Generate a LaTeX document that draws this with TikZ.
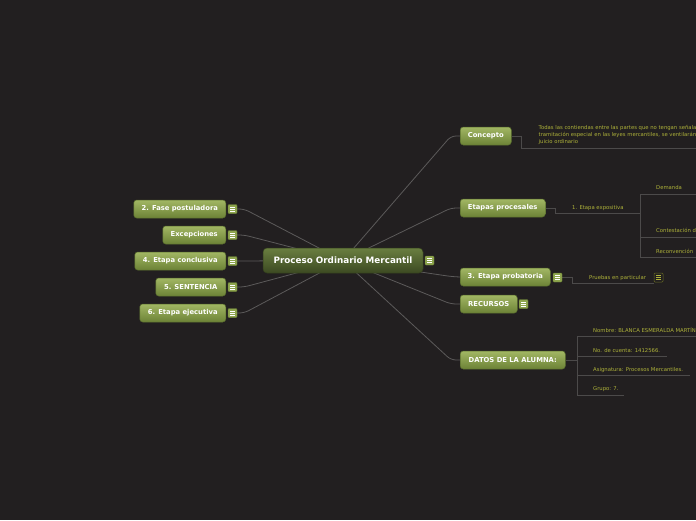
\documentclass[tikz,border=0pt]{standalone}
\usepackage{fontspec}
\setmainfont{DejaVu Sans}
\usetikzlibrary{calc}
\pgfdeclarelayer{bg}
\pgfdeclarelayer{edges}
\pgfsetlayers{bg,edges,main}
\definecolor{bgc}{HTML}{221F20}
\definecolor{linec}{HTML}{5C5A5A}
\definecolor{subline}{HTML}{4C4A4A}
\definecolor{nodetop}{HTML}{A2B764}
\definecolor{nodebot}{HTML}{6C8236}
\definecolor{nodeborder}{HTML}{5A6E2E}
\definecolor{maintop}{HTML}{6A7E40}
\definecolor{mainbot}{HTML}{3C4A22}
\definecolor{mainborder}{HTML}{34401D}
\definecolor{smalltxt}{HTML}{AEB23A}
\definecolor{iconfill}{HTML}{8EA54E}
\tikzset{
  x=1pt, y=-1pt,
  topic/.style={rounded corners=3pt, top color=nodetop, bottom color=nodebot,
    draw=nodeborder, line width=0.5pt, minimum height=18pt, inner sep=0pt,
    text=white, font=\bfseries\fontsize{6.8}{8}\selectfont},
  maintopic/.style={rounded corners=4pt, top color=maintop, bottom color=mainbot,
    draw=mainborder, line width=0.5pt, minimum height=25pt, minimum width=160pt,
    inner sep=0pt, text=white, font=\bfseries\fontsize{8.8}{10}\selectfont},
  iconbox/.style={minimum size=9pt, inner sep=0pt, rounded corners=1pt,
    fill=iconfill, draw=nodebot, line width=0.4pt,
    path picture={
      \foreach \dy in {-2,0,2}{
        \draw[white, line width=0.6pt]
          ($(path picture bounding box.center)+(-2.3,\dy)$) --
          ($(path picture bounding box.center)+(2.3,\dy)$);}
    }},
  darkicon/.style={minimum size=9pt, inner sep=0pt, rounded corners=1pt,
    fill=bgc, draw=smalltxt!60!black, line width=0.5pt,
    path picture={
      \foreach \dy in {-2,0,2}{
        \draw[smalltxt, line width=0.6pt]
          ($(path picture bounding box.center)+(-2.3,\dy)$) --
          ($(path picture bounding box.center)+(2.3,\dy)$);}
    }},
  small/.style={text=smalltxt, inner sep=0pt, font=\fontsize{5.3}{6.8}\selectfont},
  conn/.style={draw=linec, line width=0.8pt, rounded corners=5pt},
  subconn/.style={draw=subline, line width=0.9pt},
}
\begin{document}
\begin{tikzpicture}
\begin{pgfonlayer}{bg}
\fill[bgc] (0,0) rectangle (696,520);
\end{pgfonlayer}
\useasboundingbox (0,0) rectangle (696,520);

% main
\node[maintopic] (main) at (343,260.5) {Proceso Ordinario Mercantil};
\node[iconbox] (mi) at (429.5,260.5) {};

% right topics
\node[topic, minimum width=51pt, anchor=west] (concepto) at (460,136) {Concepto};
\node[topic, minimum width=85pt, anchor=west] (etapas) at (460,208) {Etapas procesales};
\node[topic, minimum width=90pt, anchor=west] (probatoria) at (460,277) {3. Etapa probatoria};
\node[iconbox] (pi) at (557.5,277.5) {};
\node[topic, minimum width=57pt, anchor=west] (recursos) at (460,304) {RECURSOS};
\node[iconbox] (ri) at (523.5,304) {};
\node[topic, minimum width=105pt, anchor=west] (datos) at (460,360) {DATOS DE LA ALUMNA:};

% left topics
\node[topic, minimum width=92pt, anchor=east] (fase) at (226,209) {2. Fase postuladora};
\node[iconbox] (fi) at (232.5,209) {};
\node[topic, minimum width=63pt, anchor=east] (excep) at (226,235) {Excepciones};
\node[iconbox] (ei) at (232.5,235) {};
\node[topic, minimum width=91pt, anchor=east] (concl) at (226,261) {4. Etapa conclusiva};
\node[iconbox] (ci) at (232.5,261) {};
\node[topic, minimum width=70pt, anchor=east] (sent) at (226,287) {5. SENTENCIA};
\node[iconbox] (si) at (232.5,287) {};
\node[topic, minimum width=86pt, anchor=east] (ejec) at (226,313) {6. Etapa ejecutiva};
\node[iconbox] (ji) at (232.5,313) {};

% subtopic texts
\node[small, anchor=north west, align=left] (ctext) at (538.5,125.5)
  {Todas las contiendas entre las partes que no tengan señalada\\
   tramitación especial en las leyes mercantiles, se ventilarán en\\
   juicio ordinario};
\node[small, anchor=west] (expo) at (572,208.5) {1. Etapa expositiva};
\node[small, anchor=west] (dem) at (656,188) {Demanda};
\node[small, anchor=west] (cont) at (656,230.5) {Contestación de la demanda};
\node[small, anchor=west] (recon) at (656,251) {Reconvención};
\node[small, anchor=west] (prue) at (589,278) {Pruebas en particular};
\node[darkicon] (pri) at (658.5,277.5) {};
\node[small, anchor=west] (nom) at (593,330.5) {Nombre: BLANCA ESMERALDA MARTÍNEZ};
\node[small, anchor=west] (cta) at (593,350.5) {No. de cuenta: 1412566.};
\node[small, anchor=west] (asig) at (593,370) {Asignatura: Procesos Mercantiles.};
\node[small, anchor=west] (grp) at (593,389.5) {Grupo: 7.};

\coordinate (rEdge) at (696,0);

\begin{pgfonlayer}{edges}
% main connectors
\draw[conn] (main.center) -- ($(concepto.west)+(-9,0)$) -- (concepto.west);
\draw[conn] (main.center) -- ($(etapas.west)+(-9,0)$) -- (etapas.west);
\draw[conn] (main.center) -- ($(probatoria.west)+(-9,-0.5)$) -- (probatoria.west);
\draw[conn] (main.center) -- ($(recursos.west)+(-9,0)$) -- (recursos.west);
\draw[conn] (main.center) -- ($(datos.west)+(-9,0)$) -- (datos.west);
\draw[conn] (fi.east) -- ++(7,0) -- (main.center);
\draw[conn] (ei.east) -- ++(7,0) -- (main.center);
\draw[conn] (ci.east) -- (main.center);
\draw[conn] (si.east) -- ++(7,0) -- (main.center);
\draw[conn] (ji.east) -- ++(7,0) -- (main.center);
% concepto subtree
\draw[subconn] (concepto.east) -- (521,136) -- (521,148) -- (rEdge |- 0,148);
% etapas subtree
\draw[subconn] (etapas.east) -- (555,208) -- (555,213) -- (640,213);
\draw[subconn] (640,194) -- (640,257);
\draw[subconn] (640,194) -- (rEdge |- 0,194);
\draw[subconn] (640,237) -- (rEdge |- 0,237);
\draw[subconn] (640,257) -- (rEdge |- 0,257);
% probatoria subtree
\draw[subconn] (pi.east) -- (572,277.5) -- (572,283) -- (pri.west |- 0,283);
% datos subtree
\draw[subconn] (datos.east) -- (577,360);
\draw[subconn] (577,336) -- (577,395);
\draw[subconn] (577,336) -- (rEdge |- 0,336);
\draw[subconn] (577,356) -- (667,356);
\draw[subconn] (577,375) -- (690,375);
\draw[subconn] (577,395) -- (624,395);
\end{pgfonlayer}
\end{tikzpicture}
\end{document}
